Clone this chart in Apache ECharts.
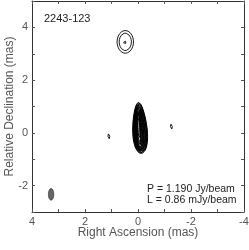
<!DOCTYPE html>
<html><head><meta charset="utf-8">
<script src="https://cdn.jsdelivr.net/npm/echarts@6/dist/echarts.min.js"></script>
<style>html,body{margin:0;padding:0;background:#fff}#c{width:249px;height:250px}</style>
</head><body><div id="c"></div>
<script>
// ---- data ----
const sourceName = '2243-123';
const peakText = 'P = 1.190 Jy/beam';
const lowText = 'L = 0.86 mJy/beam';
const xTicks = [4, 2, 0, -2, -4];
const yTicks = [-2, 0, 2, 4];
// core contours (mas): centre, semi-axes
const coreCx = [-0.07, -0.07, -0.07, -0.07, -0.06, -0.06, -0.06, -0.05, -0.05, -0.05, -0.04, -0.04, -0.04, -0.03, -0.03, -0.03, -0.03];
const coreCy = [0.19, 0.19, 0.18, 0.18, 0.17, 0.17, 0.16, 0.16, 0.16, 0.15, 0.15, 0.15, 0.16, 0.17, 0.18, 0.2, 0.2];
const coreRx = [0.27, 0.255, 0.24, 0.225, 0.21, 0.195, 0.18, 0.165, 0.15, 0.135, 0.12, 0.105, 0.09, 0.075, 0.06, 0.045, 0.03];
const coreRy = [0.97, 0.94, 0.91, 0.88, 0.85, 0.82, 0.80, 0.78, 0.76, 0.74, 0.72, 0.70, 0.67, 0.64, 0.60, 0.55, 0.45];
// other components: centre, semi-axes
const compCx = [0.48, 0.48, 0.50, 1.1, -1.26];
const compCy = [3.45, 3.45, 3.43, -0.13, 0.24];
const compRx = [0.31, 0.23, 0.05, 0.035, 0.035];
const compRy = [0.43, 0.33, 0.06, 0.1, 0.1];
// restoring beam
const beamCx = [3.28];
const beamCy = [-2.33];
const beamRx = [0.1];
const beamRy = [0.22];

function ellipse(cx, cy, rx, ry, taper, shear) {
  const pts = [];
  const n = 72;
  for (let i = 0; i <= n; i++) {
    const t = 2 * Math.PI * i / n;
    const s = Math.sin(t);
    const r = rx * (1 - taper * s);
    const y = cy + ry * s;
    pts.push([cx + r * Math.cos(t) + shear * (y - cy), y]);
  }
  return pts;
}

const series = [];
coreCx.forEach((cx, i) => {
  series.push({type: 'line', data: ellipse(cx, coreCy[i], coreRx[i], coreRy[i], 0.25, 0.05),
    symbol: 'none', silent: true, lineStyle: {color: '#000', width: 1}, animation: false});
});
compCx.forEach((cx, i) => {
  series.push({type: 'line', data: ellipse(cx, compCy[i], compRx[i], compRy[i], 0, 0),
    symbol: 'none', silent: true, lineStyle: {color: '#000', width: 0.9}, animation: false});
});
beamCx.forEach((cx, i) => {
  const pts = ellipse(cx, beamCy[i], beamRx[i], beamRy[i], 0, 0);
  series.push({type: 'custom', data: [0], silent: true, animation: false,
    renderItem: (params, api) => ({type: 'polygon',
      shape: {points: pts.map(p => api.coord(p))},
      style: {fill: '#666', stroke: '#333', lineWidth: 0.8}})});
});

const labelFont = {fontFamily: 'Liberation Sans', fontSize: 11, color: '#555'};
const axisLine = {show: true, onZero: false, lineStyle: {color: '#333', width: 1}};
const tick = {show: true, inside: true, length: 3, lineStyle: {color: '#555'}};

const chart = echarts.init(document.getElementById('c'));
chart.setOption({
  animation: false,
  grid: {left: 32, right: 5, top: 1, bottom: 38, containLabel: false, outerBoundsMode: 'none'},
  xAxis: [
    {type: 'value', min: -4, max: 4, interval: 1, inverse: true, position: 'bottom',
     axisLine, axisTick: tick, splitLine: {show: false},
     axisLabel: Object.assign({margin: 4, formatter: v => xTicks.includes(v) ? String(v) : ''}, labelFont),
     name: 'Right Ascension (mas)', nameLocation: 'middle', nameGap: 15, nameMoveOverlap: false,
     nameTextStyle: {fontFamily: 'Liberation Sans', fontSize: 12, color: '#555'}},
    {type: 'value', min: -4, max: 4, interval: 1, inverse: true, position: 'top',
     axisLine, axisTick: tick, splitLine: {show: false}, axisLabel: {show: false}}
  ],
  yAxis: [
    {type: 'value', min: -3, max: 5, interval: 1, position: 'left',
     axisLine, axisTick: tick, splitLine: {show: false},
     axisLabel: Object.assign({margin: 4, formatter: v => yTicks.includes(v) ? String(v) : ''}, labelFont),
     name: 'Relative Declination (mas)', nameLocation: 'middle', nameGap: 16, nameMoveOverlap: false,
     nameTextStyle: {fontFamily: 'Liberation Sans', fontSize: 12, color: '#555'}},
    {type: 'value', min: -3, max: 5, interval: 1, position: 'right',
     axisLine, axisTick: tick, splitLine: {show: false}, axisLabel: {show: false}}
  ],
  graphic: [
    {type: 'text', left: 44, top: 13, style: {text: sourceName, font: '11px "Liberation Sans"', fill: '#222'}},
    {type: 'text', left: 147, top: 184, style: {text: peakText, font: '10.5px "Liberation Sans"', fill: '#222'}},
    {type: 'text', left: 147, top: 195, style: {text: lowText, font: '10.5px "Liberation Sans"', fill: '#222'}}
  ],
  series
});
</script></body></html>
